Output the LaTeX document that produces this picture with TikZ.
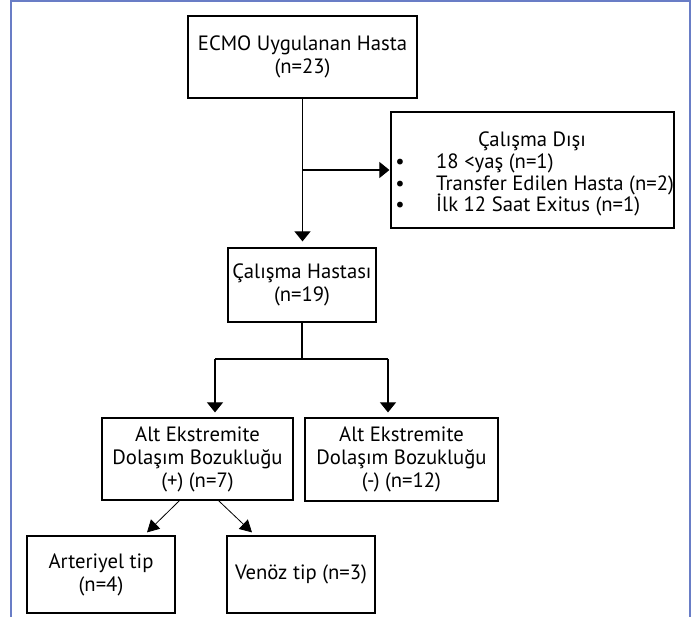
\documentclass[tikz,border=0pt]{standalone}
\usepackage{fontspec}
\setmainfont{PT Sans}
\usetikzlibrary{arrows.meta}
\definecolor{frameblue}{RGB}{105,125,198}
\begin{document}
\begin{tikzpicture}[x=1pt,y=-1pt,
  box/.style={draw=black,line width=1.2pt,inner sep=0pt,align=center,
    font=\fontsize{20.7}{23}\selectfont},
  txt/.style={inner sep=0pt,font=\fontsize{20.7}{23}\selectfont},
  conn/.style={draw=black,line width=1.1pt},
  arr/.style={conn,-{Triangle[width=16pt,length=10pt]}},
  darr/.style={draw=black,line width=0.8pt,-{Triangle[width=13pt,length=12pt]}}]
\useasboundingbox (0,0) rectangle (694,617);
% outer frame
\draw[frameblue,line width=1.6pt] (11,630) -- (11,1) -- (690,1) -- (690,630);
% boxes
\node[box,minimum width=229pt,minimum height=82pt] (b1) at (302.5,57) {ECMO Uygulanan Hasta\\(n=23)};
\node[box,minimum width=283pt,minimum height=116pt] (dis) at (532.5,170) {};
\node[txt,anchor=base] (dt) at (532,146.5) {Çalışma Dışı};
\node[txt,anchor=base] (db1) at (400,169) {•};
\node[txt,anchor=base west] (dl1) at (436,169) {18 <yaş (n=1)};
\node[txt,anchor=base] (db2) at (400,190.5) {•};
\node[txt,anchor=base west] (dl2) at (436,190.5) {Transfer Edilen Hasta (n=2)};
\node[txt,anchor=base] (db3) at (400,212) {•};
\node[txt,anchor=base west] (dl3) at (436,212) {İlk 12 Saat Exitus (n=1)};
\node[box,minimum width=148pt,minimum height=74pt] (b2) at (302,285) {Çalışma Hastası\\(n=19)};
\node[box,minimum width=191pt,minimum height=82pt] (b3) at (197.5,459) {Alt Ekstremite\\Dolaşım Bozukluğu\\(+) (n=7)};
\node[box,minimum width=193pt,minimum height=83pt] (b4) at (401.5,459.5) {Alt Ekstremite\\Dolaşım Bozukluğu\\(-) (n=12)};
\node[box,minimum width=148pt,minimum height=77pt] (b5) at (101,574.5) {Arteriyel tip\\(n=4)};
\node[box,minimum width=148pt,minimum height=77pt] (b6) at (301,574.5) {Venöz tip (n=3)};
% connectors
\coordinate (j1) at (302.5,170);
\coordinate (j2) at (302,359);
\coordinate (jl) at (215,359);
\coordinate (jr) at (388,359);
\draw[arr,shorten >=6pt] (b1.south) -- (b1.south |- b2.north);
\draw[arr,shorten >=1pt] (j1) -- (dis.west);
\draw[conn] (b2.south) -- (j2);
\draw[conn] (jl) -- (jr);
\draw[arr,shorten >=5pt] (jl) -- (jl |- b3.north);
\draw[arr,shorten >=5pt] (jr) -- (jr |- b4.north);
\draw[darr] ([xshift=-18pt]b3.south) -- ([xshift=46pt,yshift=3pt]b5.north);
\draw[darr] ([xshift=21pt]b3.south) -- ([xshift=-49pt,yshift=3pt]b6.north);
\end{tikzpicture}
\end{document}
